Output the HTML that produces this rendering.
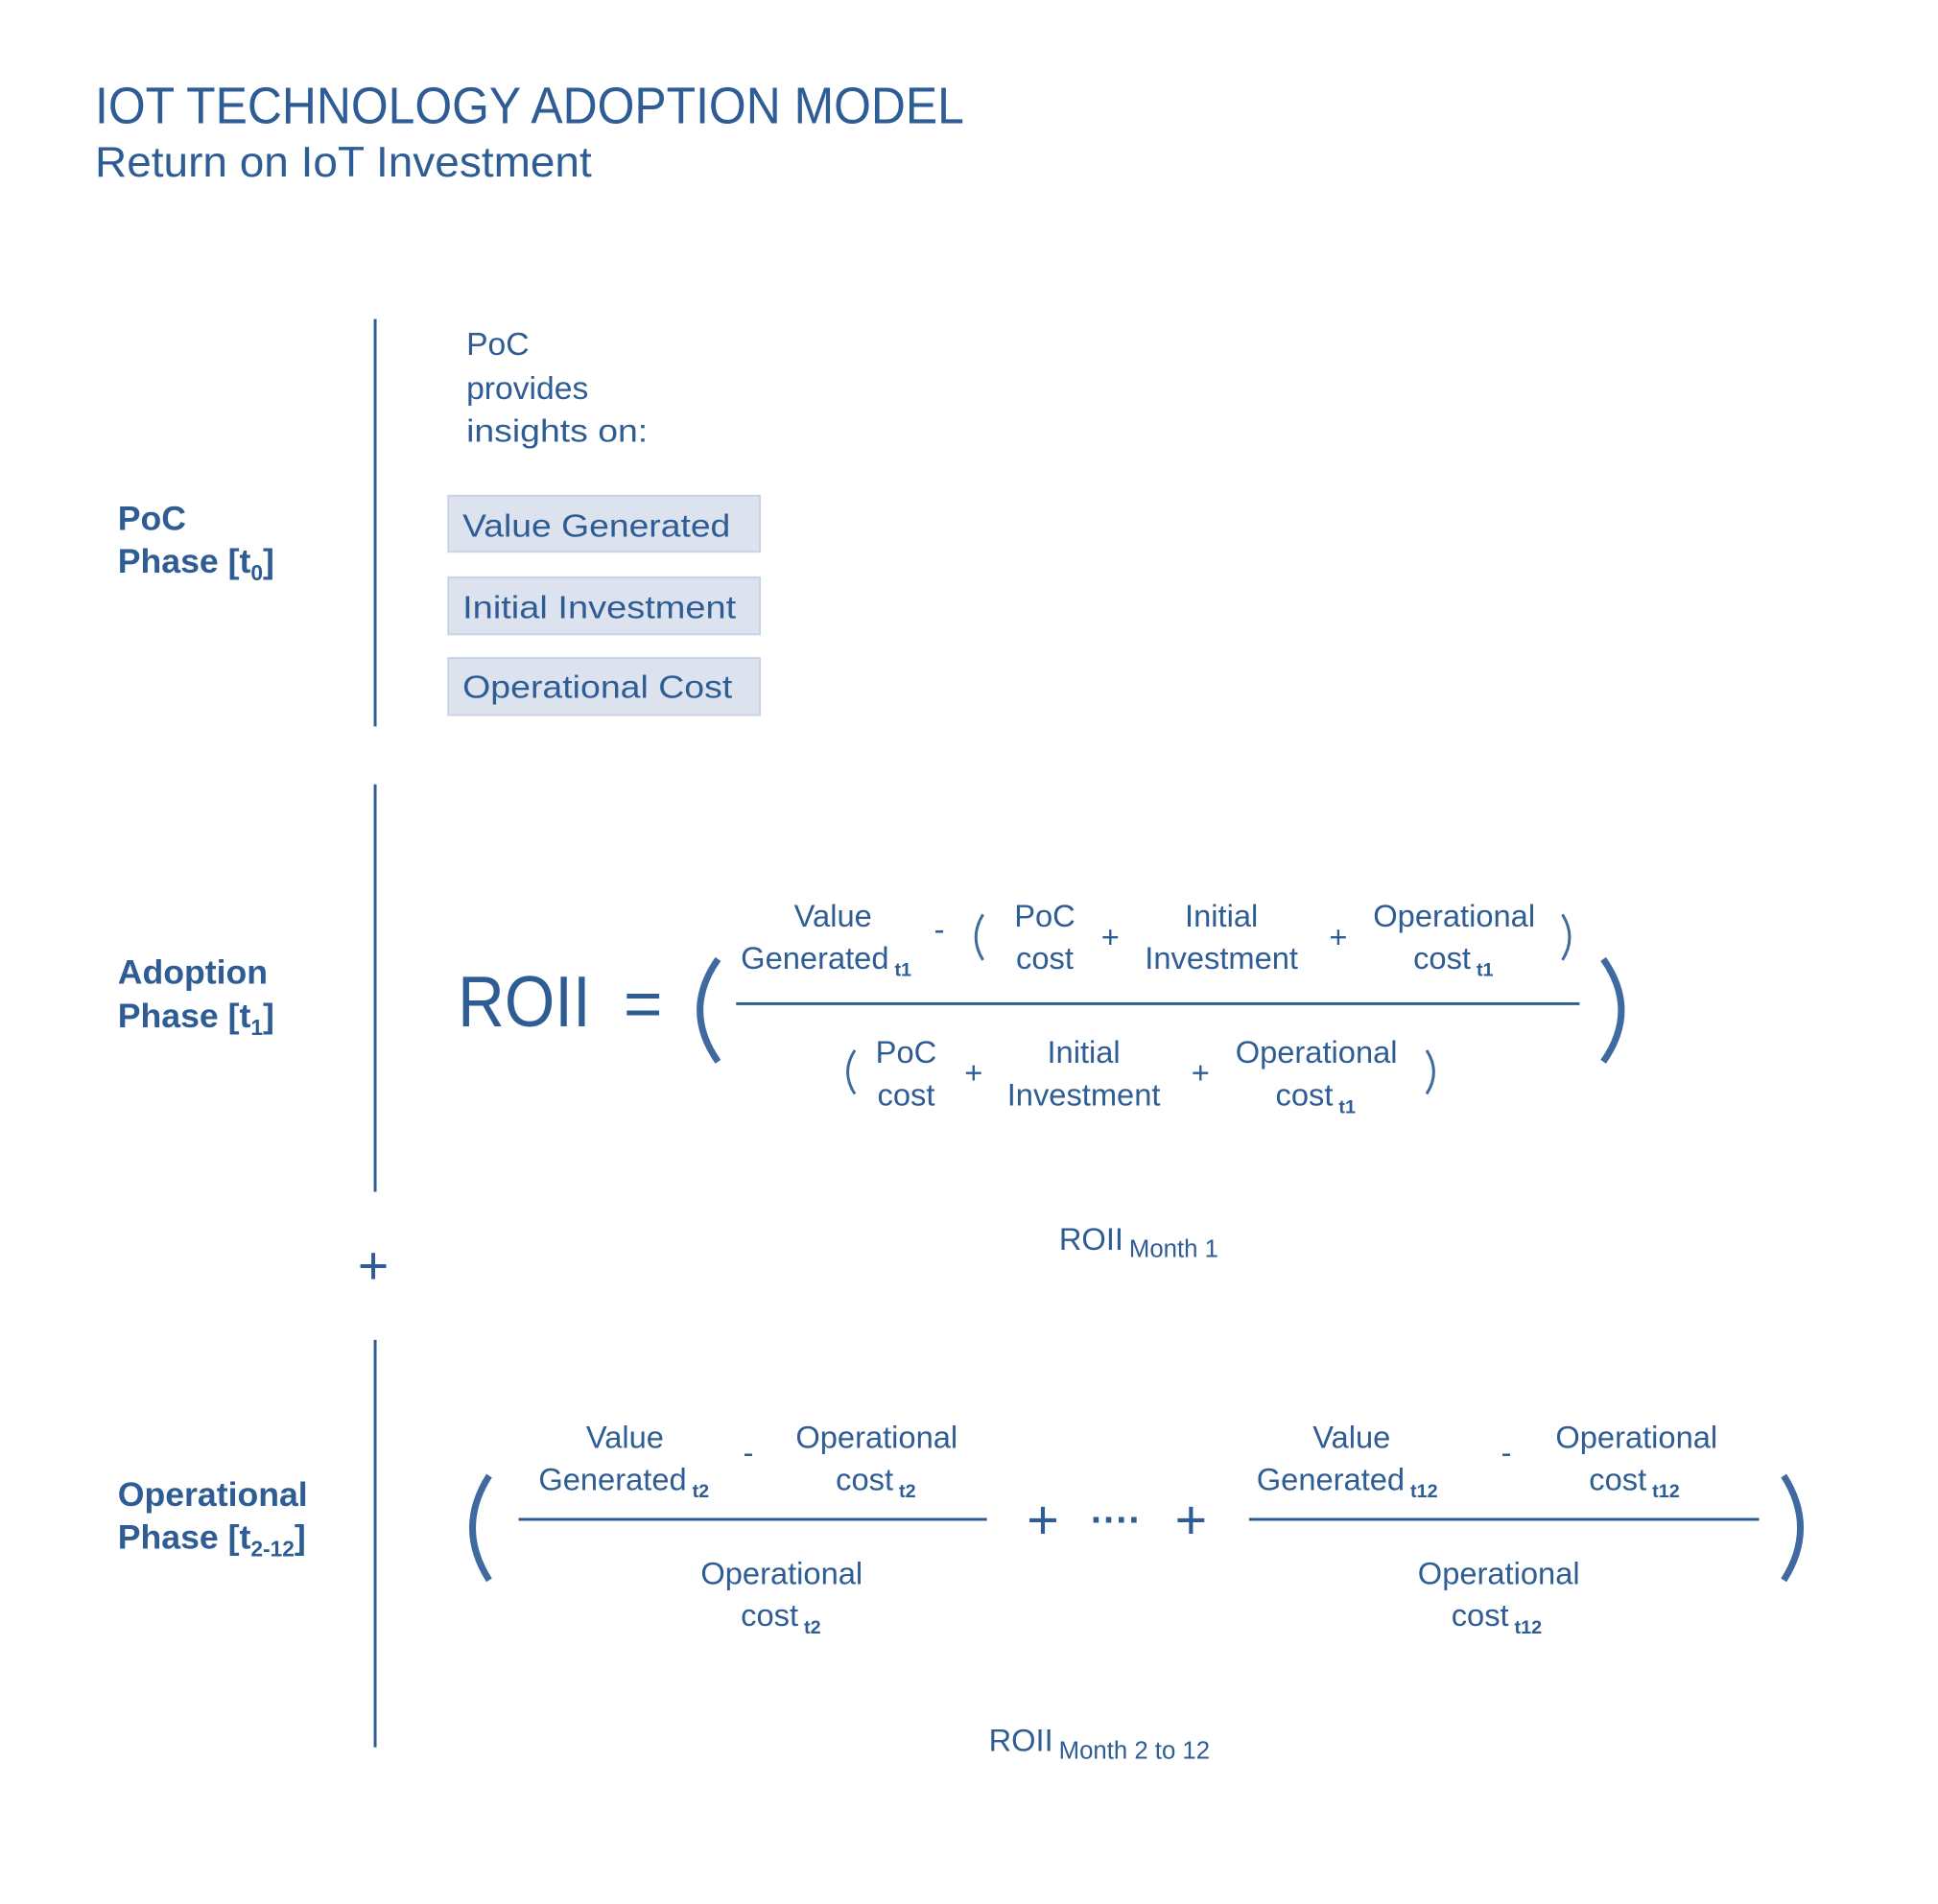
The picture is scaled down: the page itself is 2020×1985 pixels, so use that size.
<!DOCTYPE html>
<html><head><meta charset="utf-8"><style>
html,body{margin:0;padding:0;background:#fff;}
svg{display:block;}
text{fill:#2e5c94;font-family:"Liberation Sans",sans-serif;}
.f{font-size:33px;}
.s{font-size:20px;font-weight:bold;}
.b{font-size:36px;font-weight:bold;}
</style></head><body>
<svg width="2020" height="1985" viewBox="0 0 2020 1985" xmlns="http://www.w3.org/2000/svg">
<rect width="2020" height="1985" fill="#fff"/>
<g transform="scale(0.99)">
<text x="100" y="130" font-size="54" textLength="915" lengthAdjust="spacingAndGlyphs">IOT TECHNOLOGY ADOPTION MODEL</text>
<text x="100" y="186" font-size="45" textLength="523" lengthAdjust="spacingAndGlyphs">Return on IoT Investment</text>

<g stroke="#2e5c94" stroke-width="3">
<line x1="395" y1="336" x2="395" y2="765"/>
<line x1="395" y1="826" x2="395" y2="1255"/>
<line x1="395" y1="1411" x2="395" y2="1840"/>
</g>
<text x="393" y="1352" font-size="56" text-anchor="middle">+</text>

<text class="b" x="124" y="558">PoC</text>
<text class="b" x="124" y="603">Phase [t<tspan font-size="23" dy="8">0</tspan><tspan dy="-8">]</tspan></text>
<text class="b" x="124" y="1036">Adoption</text>
<text class="b" x="124" y="1082">Phase [t<tspan font-size="23" dy="8">1</tspan><tspan dy="-8">]</tspan></text>
<text class="b" x="124" y="1586">Operational</text>
<text class="b" x="124" y="1631">Phase [t<tspan font-size="23" dy="8">2-12</tspan><tspan dy="-8">]</tspan></text>

<text x="491" y="374" font-size="34">PoC</text>
<text x="491" y="420" font-size="34">provides</text>
<text x="491" y="465" font-size="34" textLength="191" lengthAdjust="spacingAndGlyphs">insights on:</text>

<g fill="#dce3ee" stroke="#c9d3e3" stroke-width="2">
<rect x="472" y="522" width="328" height="59"/>
<rect x="472" y="608" width="328" height="60"/>
<rect x="472" y="693" width="328" height="60"/>
</g>
<text x="487" y="565" font-size="34" textLength="282" lengthAdjust="spacingAndGlyphs">Value Generated</text>
<text x="487" y="651" font-size="34" textLength="288" lengthAdjust="spacingAndGlyphs">Initial Investment</text>
<text x="487" y="735" font-size="34" textLength="284" lengthAdjust="spacingAndGlyphs">Operational Cost</text>

<text x="482" y="1081" font-size="76" textLength="140" lengthAdjust="spacingAndGlyphs">ROII</text>
<text x="677" y="1081" font-size="70" text-anchor="middle">=</text>
<g fill="none" stroke="#3f6aa0">
<path d="M756,1010 Q718,1064 756,1118" stroke-width="7"/>
<path d="M1688,1010 Q1726,1064 1688,1118" stroke-width="7"/>
<path d="M1035,963 Q1020,987 1035,1011" stroke-width="3"/>
<path d="M1645,963 Q1660,987 1645,1011" stroke-width="3"/>
<path d="M900,1106 Q885,1129 900,1152" stroke-width="3"/>
<path d="M1502,1106 Q1517,1129 1502,1152" stroke-width="3"/>
<path d="M515,1554 Q480,1609 515,1664" stroke-width="7"/>
<path d="M1878,1554 Q1913,1609 1878,1664" stroke-width="7"/>
</g>
<line x1="775" y1="1057" x2="1663" y2="1057" stroke="#2e5c94" stroke-width="3"/>

<text class="f" x="877" y="976" text-anchor="middle">Value</text>
<text class="f" x="780" y="1020">Generated<tspan class="s" dx="6" dy="8">t1</tspan></text>
<text class="f" x="989" y="990" text-anchor="middle">-</text>
<text class="f" x="1100" y="976" text-anchor="middle">PoC</text>
<text class="f" x="1100" y="1020" text-anchor="middle">cost</text>
<text class="f" x="1169" y="998" text-anchor="middle">+</text>
<text class="f" x="1286" y="976" text-anchor="middle">Initial</text>
<text class="f" x="1286" y="1020" text-anchor="middle">Investment</text>
<text class="f" x="1409" y="998" text-anchor="middle">+</text>
<text class="f" x="1531" y="976" text-anchor="middle">Operational</text>
<text class="f" x="1488" y="1020">cost<tspan class="s" dx="6" dy="8">t1</tspan></text>

<text class="f" x="954" y="1119" text-anchor="middle">PoC</text>
<text class="f" x="954" y="1164" text-anchor="middle">cost</text>
<text class="f" x="1025" y="1141" text-anchor="middle">+</text>
<text class="f" x="1141" y="1119" text-anchor="middle">Initial</text>
<text class="f" x="1141" y="1164" text-anchor="middle">Investment</text>
<text class="f" x="1264" y="1141" text-anchor="middle">+</text>
<text class="f" x="1386" y="1119" text-anchor="middle">Operational</text>
<text class="f" x="1343" y="1164">cost<tspan class="s" dx="6" dy="8">t1</tspan></text>

<text class="f" x="1115" y="1316">ROII<tspan font-size="26" dx="6" dy="8">Month 1</tspan></text>

<line x1="546" y1="1600" x2="1039" y2="1600" stroke="#2e5c94" stroke-width="3"/>
<line x1="1315" y1="1600" x2="1852" y2="1600" stroke="#2e5c94" stroke-width="3"/>

<text class="f" x="658" y="1525" text-anchor="middle">Value</text>
<text class="f" x="567" y="1569">Generated<tspan class="s" dx="6" dy="8">t2</tspan></text>
<text class="f" x="788" y="1541" text-anchor="middle">-</text>
<text class="f" x="923" y="1525" text-anchor="middle">Operational</text>
<text class="f" x="880" y="1569">cost<tspan class="s" dx="6" dy="8">t2</tspan></text>
<text class="f" x="823" y="1668" text-anchor="middle">Operational</text>
<text class="f" x="780" y="1712">cost<tspan class="s" dx="6" dy="8">t2</tspan></text>

<text x="1098" y="1620" font-size="58" text-anchor="middle">+</text>
<text x="1175" y="1614" font-size="40" text-anchor="middle" font-weight="bold">····</text>
<text x="1254" y="1620" font-size="58" text-anchor="middle">+</text>

<text class="f" x="1423" y="1525" text-anchor="middle">Value</text>
<text class="f" x="1323" y="1569">Generated<tspan class="s" dx="6" dy="8">t12</tspan></text>
<text class="f" x="1586" y="1541" text-anchor="middle">-</text>
<text class="f" x="1723" y="1525" text-anchor="middle">Operational</text>
<text class="f" x="1673" y="1569">cost<tspan class="s" dx="6" dy="8">t12</tspan></text>
<text class="f" x="1578" y="1668" text-anchor="middle">Operational</text>
<text class="f" x="1528" y="1712">cost<tspan class="s" dx="6" dy="8">t12</tspan></text>

<text class="f" x="1041" y="1844">ROII<tspan font-size="26" dx="6" dy="8">Month 2 to 12</tspan></text>
</g>
</svg>
</body></html>
